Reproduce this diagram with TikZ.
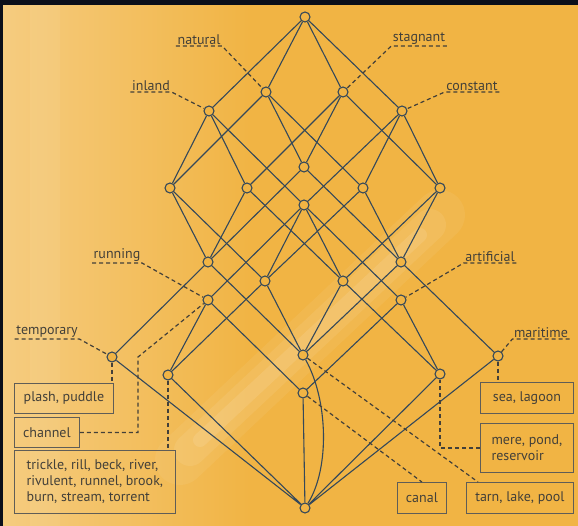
\documentclass[tikz,border=0pt]{standalone}
\usepackage{fontspec}
\setmainfont{PT Sans}
\definecolor{wateror}{HTML}{F1B444}
\definecolor{waterlt}{HTML}{F5CC80}
\definecolor{lattline}{HTML}{34485A}
\definecolor{labtext}{HTML}{434039}
\definecolor{framedark}{HTML}{0B0F1A}

\begin{document}
\begin{tikzpicture}[x=1pt, y=-1pt,
    concept/.style={circle, draw=lattline, fill=wateror, line width=1.1pt, inner sep=0pt, minimum size=10pt},
    edge/.style={lattline, line width=1.1pt},
    leader/.style={labtext, dash pattern=on 4pt off 3pt, line width=1.2pt},
    attr/.style={font=\fontsize{14}{16}\selectfont, text=labtext, inner sep=1.5pt, anchor=south},
    objbox/.style={draw=labtext!85, line width=0.8pt, font=\fontsize{14}{16}\selectfont, text=labtext, align=left, anchor=north west, inner sep=0pt}
  ]
    \useasboundingbox (0,0) rectangle (578,526);
    % background and glow
    \fill[wateror] (0,0) rectangle (578,526);
    \fill[left color=waterlt, right color=wateror] (0,5) rectangle (250,526);
    \draw[white, opacity=0.06, line width=50pt, line cap=round] (180,460) -- (440,215);
    \draw[white, opacity=0.08, line width=32pt, line cap=round] (190,450) -- (430,225);
    \draw[white, opacity=0.10, line width=14pt, line cap=round] (200,440) -- (420,235);
    \draw[white, opacity=0.06, line width=30pt] (45,5) -- (45,526);
    \fill[framedark] (0,0) rectangle (578,5);
    \fill[framedark] (0,0) rectangle (3,526);

    % concepts
    \node[concept] (top) at (305,17) {};
    \node[concept] (nat) at (266,92) {};
    \node[concept] (stag) at (343,92) {};
    \node[concept] (inl) at (209,111) {};
    \node[concept] (con) at (402,111) {};
    \node[concept] (ni) at (170,188) {};
    \node[concept] (si) at (247,188) {};
    \node[concept] (ns) at (304,167) {};
    \node[concept] (ic) at (304,205) {};
    \node[concept] (nc) at (363,188) {};
    \node[concept] (sc) at (440,188) {};
    \node[concept] (nsi) at (208,262) {};
    \node[concept] (nic) at (265,281) {};
    \node[concept] (sic) at (343,281) {};
    \node[concept] (nsc) at (401,262) {};
    \node[concept] (run) at (208,300) {};
    \node[concept] (art) at (401,300) {};
    \node[concept] (tmp) at (112,357) {};
    \node[concept] (trk) at (168,375) {};
    \node[concept] (lak) at (303,355) {};
    \node[concept] (can) at (303,393) {};
    \node[concept] (mer) at (440,374) {};
    \node[concept] (mar) at (498,356) {};
    \node[concept] (bot) at (305,508) {};

    % covering edges
    \draw[edge] (top) -- (nat) (top) -- (stag) (top) -- (inl) (top) -- (con);
    \draw[edge] (nat) -- (ni) (nat) -- (ns) (nat) -- (nc);
    \draw[edge] (stag) -- (ns) (stag) -- (si) (stag) -- (sc);
    \draw[edge] (inl) -- (ni) (inl) -- (si) (inl) -- (ic);
    \draw[edge] (con) -- (nc) (con) -- (sc) (con) -- (ic);
    \draw[edge] (ni) -- (nsi) (ni) -- (nic);
    \draw[edge] (ns) -- (nsi) (ns) -- (nsc);
    \draw[edge] (si) -- (nsi) (si) -- (sic);
    \draw[edge] (nc) -- (nsc) (nc) -- (nic);
    \draw[edge] (sc) -- (nsc) (sc) -- (sic);
    \draw[edge] (ic) -- (nic) (ic) -- (sic) (ic) -- (run) (ic) -- (art);
    \draw[edge] (nsi) -- (tmp) (nsi) -- (lak);
    \draw[edge] (nsc) -- (mar) (nsc) -- (lak);
    \draw[edge] (nic) -- (trk) (nic) -- (lak);
    \draw[edge] (sic) -- (mer) (sic) -- (lak);
    \draw[edge] (run) -- (trk) (run) -- (can);
    \draw[edge] (art) -- (mer) (art) -- (can);
    \draw[edge] (tmp) -- (bot) (trk) -- (bot) (can) -- (bot) (mer) -- (bot) (mar) -- (bot);
    \draw[edge] (lak) .. controls (328,400) and (330,468) .. (bot);

    % attribute labels
    \node[attr] (lnat) at (199,46) {natural};
    \node[attr] (lstag) at (419,46) {stagnant};
    \node[attr] (linl) at (151,92) {inland};
    \node[attr] (lcon) at (472,92) {constant};
    \node[attr] (lrun) at (117,263) {running};
    \node[attr] (lart) at (490,263) {artificial};
    \node[attr] (ltmp) at (47,339) {temporary};
    \node[attr] (lmar) at (541,339) {maritime};

    \draw[leader] (lnat.south west) -- (lnat.south east) -- (nat);
    \draw[leader] (lstag.south east) -- (lstag.south west) -- (stag);
    \draw[leader] (linl.south west) -- (linl.south east) -- (inl);
    \draw[leader] (lcon.south east) -- (lcon.south west) -- (con);
    \draw[leader] (lrun.south west) -- (lrun.south east) -- (run);
    \draw[leader] (lart.south east) -- (lart.south west) -- (art);
    \draw[leader] (ltmp.south west) -- (ltmp.south east) -- (tmp);
    \draw[leader] (lmar.south east) -- (lmar.south west) -- (mar);

    % object boxes
    \node[objbox, minimum width=99pt, minimum height=30pt] (bpla) at (14,383) {plash, puddle};
    \node[objbox, minimum width=65pt, minimum height=30pt] (bchn) at (14,417) {channel};
    \node[objbox, minimum width=161pt, minimum height=63pt] (btrk) at (14,450) {trickle, rill, beck, river,\\rivulent, runnel, brook,\\burn, stream, torrent};
    \node[objbox, minimum width=93pt, minimum height=31pt] (bsea) at (480,382) {sea, lagoon};
    \node[objbox, minimum width=93pt, minimum height=49pt] (bmer) at (480,423) {mere, pond,\\reservoir};
    \node[objbox, minimum width=49pt, minimum height=31pt] (bcan) at (397,482) {canal};
    \node[objbox, minimum width=107pt, minimum height=31pt] (btar) at (466,482) {tarn, lake, pool};

    \coordinate (chnbend) at (138,357);
    \draw[leader] (tmp) -- (tmp |- bpla.north);
    \draw[leader] (bchn.east) -| (chnbend) -- (run);
    \draw[leader] (trk) -- (trk |- btrk.north);
    \draw[leader] (mar) -- (mar |- bsea.north);
    \draw[leader] (bmer.west) -| (mer);
    \draw[leader] (can) -- (bcan.north);
    \draw[leader] (lak) -- ([xshift=12pt]btar.north west);
  \end{tikzpicture}
\end{document}
